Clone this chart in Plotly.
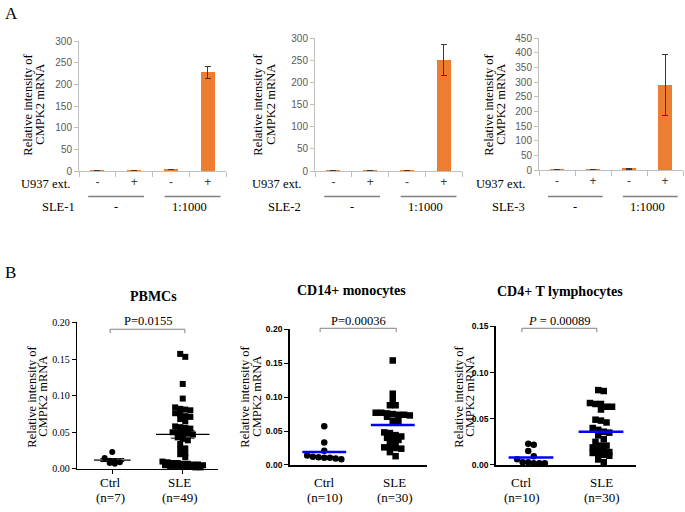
# CMPK2 mRNA figure: panel A (bar charts) and panel B (scatter dot plots)

import plotly.graph_objects as go

W, H = 685, 512

SERIF = "Liberation Serif, Times New Roman, serif"
SANS = "Liberation Sans, Arial, sans-serif"
NARROW = "Liberation Sans Narrow, Arial Narrow, Liberation Sans, sans-serif"
ORANGE = "#ED7D31"

# ---- panel A data (bars with error bars)

a_conditions = ["ext-/sle-", "ext+/sle-", "ext-/sle+", "ext+/sle+"]
a_u937 = ["-", "+", "-", "+"]
a_sle_groups = ["-", "1:1000"]
a_names = ["SLE-1", "SLE-2", "SLE-3"]

sle1_vals = [1.0, 0.5, 3.0, 228.0]
sle1_err = [0.3, 0.2, 0.5, 14.0]
sle2_vals = [1.0, 0.5, 1.5, 250.0]
sle2_err = [0.3, 0.2, 0.4, 35.0]
sle3_vals = [1.0, 1.0, 3.0, 290.0]
sle3_err = [0.3, 0.3, 0.8, 103.0]

a_ymax = [300, 300, 450]

# ---- panel B data (individual values)

b_groups = ["Ctrl", "SLE"]

pbmc_ctrl = [0.023, 0.015, 0.011, 0.010, 0.009, 0.008, 0.007]
pbmc_sle = [0.157, 0.153, 0.116, 0.096,
            0.084, 0.082, 0.081, 0.080, 0.076, 0.075, 0.072, 0.071, 0.068, 0.065,
            0.058, 0.057, 0.056, 0.055, 0.050, 0.050, 0.049, 0.048, 0.047, 0.043,
            0.041, 0.039, 0.034,
            0.028, 0.027, 0.021, 0.020, 0.016,
            0.010, 0.009, 0.008, 0.008, 0.007, 0.007, 0.006, 0.006, 0.005, 0.005,
            0.004, 0.004, 0.004, 0.003, 0.003, 0.002, 0.002]
pbmc_mean = [0.012, 0.047]
pbmc_sem = [0.002, 0.005]

cd14_ctrl = [0.057, 0.033, 0.021, 0.014, 0.012, 0.0115, 0.0105, 0.0105, 0.0095, 0.0085]
cd14_sle = [0.154, 0.105, 0.096, 0.088, 0.088,
            0.077, 0.077, 0.076, 0.075, 0.074, 0.074, 0.073, 0.071,
            0.065, 0.065,
            0.048, 0.047, 0.044, 0.042, 0.040, 0.038, 0.037, 0.032, 0.030,
            0.026, 0.026, 0.025, 0.024, 0.019, 0.013]
cd14_mean = [0.019, 0.059]

cd4_ctrl = [0.023, 0.022, 0.015, 0.0095, 0.0063, 0.003, 0.003, 0.002, 0.002, 0.002]
cd4_sle = [0.081, 0.080, 0.067, 0.066, 0.066, 0.063, 0.063, 0.060,
           0.049, 0.048, 0.046,
           0.040, 0.038, 0.036, 0.035, 0.032, 0.028, 0.025,
           0.021, 0.021, 0.019, 0.018, 0.015, 0.014, 0.013, 0.012, 0.011, 0.010,
           0.006, 0.003]
cd4_mean = [0.008, 0.036]

b_titles = ["PBMCs", "CD14+ monocytes", "CD4+ T lymphocytes"]
b_pvalues = ["P=0.0155", "P=0.00036", "<i>P</i> = 0.00089"]
b_ymax = [0.20, 0.20, 0.15]
b_n = [[7, 49], [10, 30], [10, 30]]


def px(x):
    return x / W


def py(y):
    return 1 - y / H


def swarm(values, center, tol, step, max_row):
    # spread points sideways in rows, like a GraphPad scatter dot plot
    order = sorted(range(len(values)), key=lambda i: -values[i])
    rows = []
    for i in order:
        if rows and values[rows[-1][0]] - values[i] <= tol and len(rows[-1]) < max_row:
            rows[-1].append(i)
        else:
            rows.append([i])
    xs = [0.0] * len(values)
    for row in rows:
        k = len(row)
        for j, i in enumerate(row):
            xs[i] = center + (j - (k - 1) / 2) * step
    return xs


fig = go.Figure()
annotations = []
shapes = []


def note(text, x, y, size=12, family=SERIF, xref="paper", xanchor="center",
         angle=0, color="black"):
    annotations.append(dict(text=text, x=x, y=y, xref=xref, yref="paper",
                            xanchor=xanchor, yanchor="middle", showarrow=False,
                            textangle=angle,
                            font=dict(family=family, size=size, color=color)))


# ---------------- panel A ----------------

a_vals = [sle1_vals, sle2_vals, sle3_vals]
a_errs = [sle1_err, sle2_err, sle3_err]
a_xdom = [(79, 226), (315, 462), (539, 683)]
a_ydom = [(36, 169), (33, 169), (33, 168)]
a_title_x = [(28, 40), (258, 271), (489, 501)]
a_label_right = [(72, 77), (303, 303), (527, 527)]
a_lines = [(-0.25, 1.27), (1.83, 3.35)]

for k in range(3):
    ax = "" if k == 0 else str(k + 1)
    fig.add_trace(go.Bar(
        x=a_conditions, y=a_vals[k], width=0.38,
        marker=dict(color=ORANGE, line=dict(width=0)),
        error_y=dict(type="data", array=a_errs[k], color="#3a3a3a",
                     thickness=1, width=3),
        xaxis="x" + ax, yaxis="y" + ax))
    fig.layout["xaxis" + ax] = dict(
        domain=[px(a_xdom[k][0]), px(a_xdom[k][1])], anchor="y" + ax,
        type="category", categoryorder="array", categoryarray=a_conditions,
        tickvals=a_conditions, ticktext=a_u937, tickson="boundaries",
        ticks="outside", ticklen=5, tickcolor="#bfbfbf",
        showline=True, linecolor="#bfbfbf", linewidth=1,
        tickfont=dict(family=SANS, size=12, color="#404040"),
        range=[-0.5, 3.5], fixedrange=True)
    fig.layout["yaxis" + ax] = dict(
        domain=[py(a_ydom[k][1]), py(a_ydom[k][0])], anchor="x" + ax,
        range=[0, a_ymax[k]], dtick=50, ticks="outside", ticklen=4,
        tickcolor="#bfbfbf", showline=True, linecolor="#bfbfbf", linewidth=1,
        showgrid=False, zeroline=False,
        tickfont=dict(family=SANS, size=10, color="#595959"), fixedrange=True)

    note("Relative intensity of", px(a_title_x[k][0]), py(101), size=12.5, angle=-90)
    note("CMPK2 mRNA", px(a_title_x[k][1]), py(101), size=12.5, angle=-90)
    note("U937 ext.", px(a_label_right[k][0]), py(182), size=12.5, xanchor="right")
    note(a_names[k], px(a_label_right[k][1]), py(206), size=12.5, xanchor="right")
    for g, (x0, x1) in enumerate(a_lines):
        shapes.append(dict(type="line", xref="x" + ax, yref="paper",
                           x0=x0, x1=x1, y0=py(195), y1=py(195),
                           line=dict(color="#7f7f7f", width=1.5)))
        note(a_sle_groups[g], 0.5 + 2 * g, py(206), size=12.5, xref="x" + ax)

note("A", px(3), py(8), size=17, xanchor="left")
note("B", px(3), py(273), size=17, xanchor="left")

# ---------------- panel B ----------------

b_ctrl = [pbmc_ctrl, cd14_ctrl, cd4_ctrl]
b_sle = [pbmc_sle, cd14_sle, cd4_sle]
b_mean = [pbmc_mean, cd14_mean, cd4_mean]
b_xdom = [(77, 218), (290, 427), (496, 636)]
b_ydom = [(324, 474), (331, 470), (328, 470)]
b_tol = [0.0067, 0.006, 0.0055]
b_step = [0.072, 0.083, 0.079]
b_msize = [6, 6.5, 6.5]
b_mean_color = ["black", "#0000ff", "#0000ff"]
b_mean_width = [1.3, 2.5, 2.5]
b_mean_half = [(0.26, 0.38), (0.32, 0.32), (0.32, 0.32)]
b_bracket = [(-0.03, 1.03, 331, 335), (-0.06, 1.05, 330, 334), (-0.13, 0.94, 330, 334)]
b_label_x = [(-0.03, 0.96), (0.01, 1.03), (-0.13, 1.01)]
b_title_pos = [(153, 297), (351, 291), (560, 292)]
b_ytitle_x = [(32, 43), (245, 257), (459, 470)]
b_tickfont = [dict(family=SERIF, size=10, color="black"),
              dict(family=NARROW, size=8.5, color="black", weight="bold"),
              dict(family=NARROW, size=8.5, color="black", weight="bold")]

for k in range(3):
    ax = str(k + 4)
    xa, ya = "x" + ax, "y" + ax
    for g, vals in enumerate([b_ctrl[k], b_sle[k]]):
        xs = swarm(vals, g, b_tol[k], b_step[k], 9)
        fig.add_trace(go.Scatter(
            x=xs, y=vals, mode="markers", xaxis=xa, yaxis=ya, cliponaxis=False,
            marker=dict(symbol="circle" if g == 0 else "square",
                        size=b_msize[k], color="black", line=dict(width=0))))
        m = b_mean[k][g]
        hw = b_mean_half[k][g]
        fig.add_trace(go.Scatter(
            x=[g - hw, g + hw], y=[m, m], mode="lines", xaxis=xa, yaxis=ya,
            line=dict(color=b_mean_color[k], width=b_mean_width[k])))
        if k == 0:
            s = pbmc_sem[g]
            for v in (m - s, m + s):
                fig.add_trace(go.Scatter(
                    x=[g - 0.17, g + 0.17], y=[v, v], mode="lines",
                    xaxis=xa, yaxis=ya, line=dict(color="black", width=1)))

    fig.layout["xaxis" + ax] = dict(
        domain=[px(b_xdom[k][0]), px(b_xdom[k][1])], anchor=ya,
        range=[-0.5, 1.5], showline=True, linecolor="black",
        linewidth=1.3 if k == 0 else 1.8, showgrid=False, zeroline=False,
        tickvals=[0, 1], ticks="outside" if k == 0 else "", ticklen=4,
        tickcolor="black", showticklabels=False, fixedrange=True)
    fig.layout["yaxis" + ax] = dict(
        domain=[py(b_ydom[k][1]), py(b_ydom[k][0])], anchor=xa,
        range=[0, b_ymax[k]], dtick=0.05, tickformat=".2f",
        ticks="outside", ticklen=4, tickcolor="black", tickwidth=1.2,
        showline=True, linecolor="black", linewidth=1.3 if k == 0 else 1.8,
        showgrid=False, zeroline=False, tickfont=b_tickfont[k], fixedrange=True)

    x0, x1, ytop, yleg = b_bracket[k]
    shapes.append(dict(type="path", xref=xa, yref="paper",
                       path=f"M {x0},{py(yleg)} L {x0},{py(ytop)} L {x1},{py(ytop)} L {x1},{py(yleg)}",
                       line=dict(color="#808080", width=1)))
    note(b_pvalues[k], (x0 + x1) / 2, py(323), size=12.5, xref=xa)
    note("<b>" + b_titles[k] + "</b>", px(b_title_pos[k][0]), py(b_title_pos[k][1]), size=14)
    note("Relative intensity of", px(b_ytitle_x[k][0]), py(400), size=12.5, angle=-90)
    note("CMPK2 mRNA", px(b_ytitle_x[k][1]), py(400), size=12.5, angle=-90)
    for g in range(2):
        note(b_groups[g], b_label_x[k][g], py(488), size=13, xref=xa)
        note(f"(n={b_n[k][g]})", b_label_x[k][g], py(503), size=13, xref=xa)

fig.update_layout(
    width=W, height=H, margin=dict(l=0, r=0, t=0, b=0),
    paper_bgcolor="white", plot_bgcolor="white", showlegend=False,
    bargap=0, annotations=annotations, shapes=shapes,
)

# the page's default body margin would push the 685x512 figure off the window
fig.write_html("out.html", config={"displayModeBar": False},
               post_script="document.body.style.margin = '0';")
